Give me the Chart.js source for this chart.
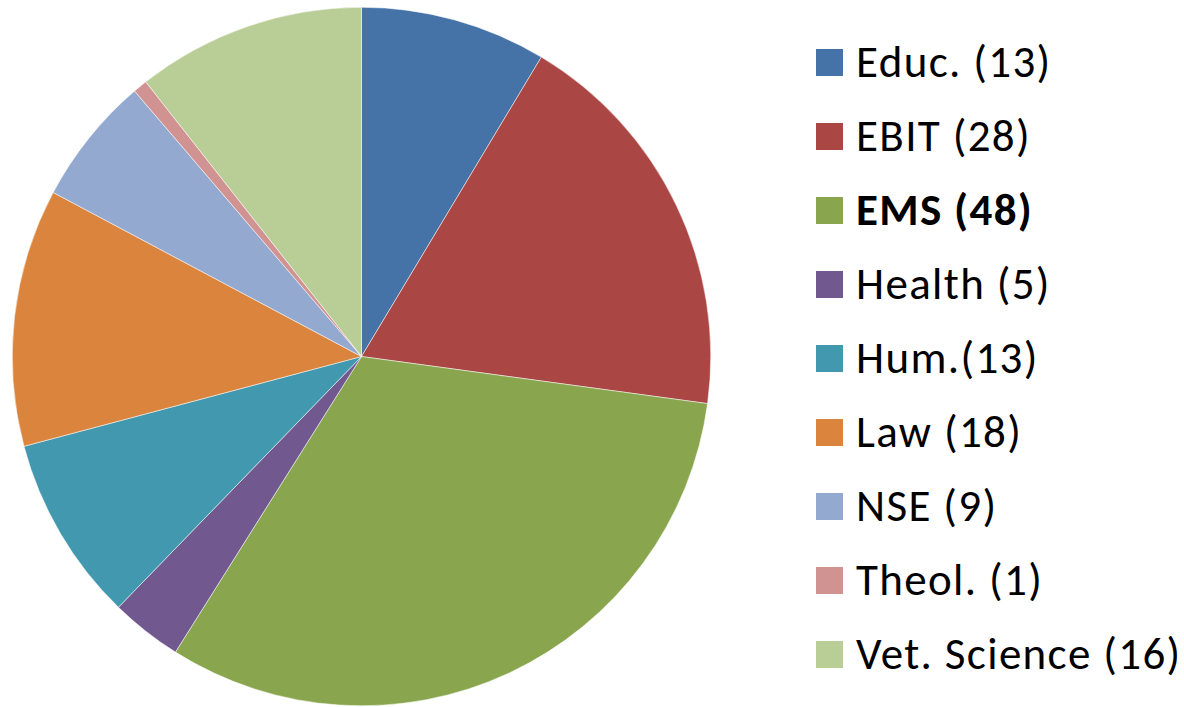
<!DOCTYPE html>
<html>
<head>
<meta charset="utf-8">
<script src="https://cdn.jsdelivr.net/npm/chart.js@4"></script>
<style>
  html, body { margin: 0; padding: 0; background: #fff; }
  body { width: 1184px; height: 707px; position: relative; overflow: hidden; }
  #pieBox { position: absolute; left: 12px; top: 7px; width: 699px; height: 699px; }
  #legend { position: absolute; left: 816px; top: 0; font-family: Carlito, Lato, "Open Sans", sans-serif; color: #000; }
  .item { position: absolute; left: 0; height: 40px; white-space: nowrap; display: flex; align-items: center; }
  .sw { width: 27px; height: 27px; display: inline-block; flex: none; }
  .lbl { margin-left: 13px; font-size: 45px; letter-spacing: 1.35px; line-height: 40px; }
</style>
</head>
<body>
<div id="pieBox"><canvas id="c"></canvas></div>
<div id="legend"></div>
<script>
const categories = ["Educ.", "EBIT", "EMS", "Health", "Hum.", "Law", "NSE", "Theol.", "Vet. Science"];
const legendLabels = ["Educ. (13)", "EBIT (28)", "EMS (48)", "Health (5)", "Hum.(13)", "Law (18)", "NSE (9)", "Theol. (1)", "Vet. Science (16)"];
const values = [13, 28, 48, 5, 13, 18, 9, 1, 16];
const colors = ["#4572A7", "#AA4643", "#89A54E", "#71588F", "#4198AF", "#DB843D", "#93A9CF", "#D19392", "#B9CD96"];
const boldIndex = 2;

new Chart(document.getElementById('c'), {
  type: 'pie',
  data: {
    labels: categories,
    datasets: [{ data: values, backgroundColor: colors, borderColor: '#ffffff', borderWidth: 0.5 }]
  },
  options: {
    responsive: true,
    maintainAspectRatio: false,
    animation: false,
    layout: { padding: 0 },
    plugins: { legend: { display: false }, tooltip: { enabled: false } }
  }
});

const lg = document.getElementById('legend');
legendLabels.forEach((t, i) => {
  const d = document.createElement('div');
  d.className = 'item';
  d.style.top = (42 + i * 74) + 'px';
  const s = document.createElement('span');
  s.className = 'sw';
  s.style.background = colors[i];
  const l = document.createElement('span');
  l.className = 'lbl';
  l.textContent = t;
  if (i === boldIndex) l.style.fontWeight = 'bold';
  d.appendChild(s); d.appendChild(l);
  lg.appendChild(d);
});
</script>
</body>
</html>
